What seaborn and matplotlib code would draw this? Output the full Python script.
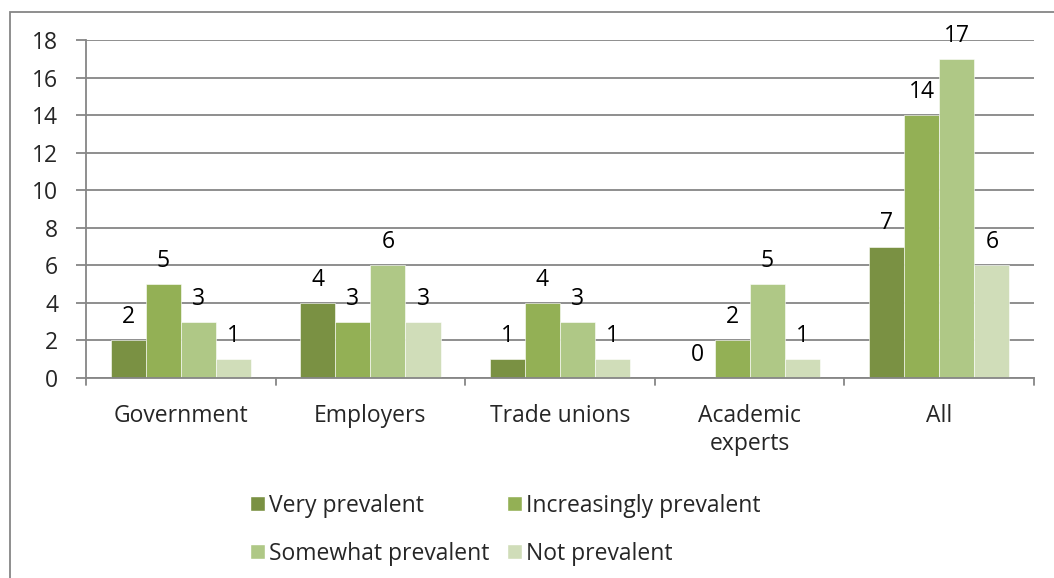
import matplotlib
matplotlib.use("Agg")
import matplotlib.pyplot as plt
import seaborn as sns
import pandas as pd
from matplotlib.patches import Rectangle

categories = ["Government", "Employers", "Trade unions", "Academic\nexperts", "All"]
series_names = ["Very prevalent", "Increasingly prevalent", "Somewhat prevalent", "Not prevalent"]
very_prevalent = [2, 4, 1, 0, 7]
increasingly_prevalent = [5, 3, 4, 2, 14]
somewhat_prevalent = [3, 6, 3, 5, 17]
not_prevalent = [1, 3, 1, 1, 6]
colors = ["#7A9143", "#93B055", "#AFC886", "#D0DDB9"]
y_ticks = [0, 2, 4, 6, 8, 10, 12, 14, 16, 18]

rows = []
for name, vals in zip(series_names, [very_prevalent, increasingly_prevalent,
                                     somewhat_prevalent, not_prevalent]):
    for cat, v in zip(categories, vals):
        rows.append({"Category": cat, "Series": name, "Count": v})
df = pd.DataFrame(rows)

sns.set_theme(style="white")
plt.rcParams["font.family"] = ["Open Sans", "DejaVu Sans"]
FS = 16.5

fig = plt.figure(figsize=(10.54, 5.78), dpi=100)
ax = fig.add_axes([86 / 1054, 1 - 378 / 578, (1034 - 86) / 1054, (378 - 40) / 578])

sns.barplot(data=df, x="Category", y="Count", hue="Series", palette=colors,
            width=0.74, saturation=1, ax=ax, legend=True, errorbar=None)

for container in ax.containers:
    for patch in container:
        patch.set_edgecolor("white")
        patch.set_linewidth(0.4)
    ax.bar_label(container, fmt="%d", padding=8, fontsize=FS, color="black")

ax.set_ylim(0, 18)
ax.set_xlim(-0.5, len(categories) - 0.5)
ax.set_yticks(y_ticks)
ax.set_yticklabels([str(t) for t in y_ticks], fontsize=FS)
ax.yaxis.grid(True, color="#868686", linewidth=1.3)
ax.set_axisbelow(True)
ax.set_xlabel("")
ax.set_ylabel("")
ax.tick_params(axis="y", length=7, width=1.3, color="#868686", pad=13, left=True)
ax.tick_params(axis="x", length=0, labelsize=FS, pad=19)
for s in ["top", "right"]:
    ax.spines[s].set_visible(False)
for s in ["left", "bottom"]:
    ax.spines[s].set_color("#868686")
    ax.spines[s].set_linewidth(1.3)

# category separator ticks below the axis
for b in [i - 0.5 for i in range(len(categories) + 1)]:
    ax.plot([b, b], [0, -0.38], color="#868686", lw=1.3, clip_on=False)

# legend filled row by row in two columns
handles, labels = ax.get_legend_handles_labels()
order = [0, 2, 1, 3]
ax.legend([handles[i] for i in order], [labels[i] for i in order], ncol=2,
          loc="upper left", bbox_to_anchor=(229 / 1054, 1 - 473 / 578),
          bbox_transform=fig.transFigure, frameon=False, fontsize=FS,
          handlelength=0.65, handleheight=0.65, handletextpad=0.2,
          columnspacing=0.75, labelspacing=1.05)

# outer chart border
fig.patches.append(Rectangle((10 / 1054, -0.05), 1.2, 1 - 12 / 578 + 0.05,
                             transform=fig.transFigure, fill=False,
                             edgecolor="#868686", linewidth=1.3))

fig.savefig("out.png", dpi=100)
